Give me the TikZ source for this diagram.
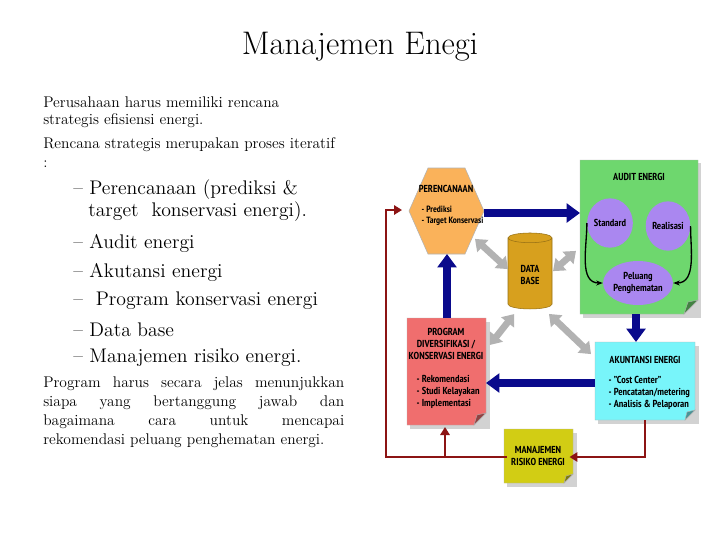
\documentclass[tikz,border=0pt]{standalone}
\usepackage{fontspec}
\setsansfont{PT Sans Narrow}[BoldFont={PT Sans Narrow Bold}]
\usetikzlibrary{shapes.geometric,arrows.meta}
\definecolor{hexor}{RGB}{250,178,90}
\definecolor{grn}{RGB}{110,215,110}
\definecolor{purp}{RGB}{170,135,240}
\definecolor{pink}{RGB}{240,110,110}
\definecolor{cyanb}{RGB}{120,245,250}
\definecolor{yel}{RGB}{210,205,20}
\definecolor{dbg}{RGB}{215,160,30}
\definecolor{navy}{RGB}{10,10,140}
\definecolor{dred}{RGB}{140,20,20}
\tikzset{
 lt/.style={anchor=west,inner sep=0pt,font=\fontsize{11.6}{13}\selectfont},
 bt/.style={anchor=west,inner sep=0pt,font=\fontsize{14.8}{17}\selectfont},
 dg/.style={font=\sffamily\fontsize{7.6}{9}\selectfont\bfseries},
 note/.style={draw=gray!60,line width=0.3pt},
 blu/.style={line width=6pt,navy,-{Triangle[length=10pt,width=14pt]}},
 gry/.style={line width=5pt,gray!60,{Triangle[length=8pt,width=12pt]}-{Triangle[length=8pt,width=12pt]},shorten <=1pt,shorten >=1pt},
 red/.style={line width=2.2pt,dred},
}
\begin{document}
\begin{tikzpicture}[x=0.75pt,y=-0.75pt]
\useasboundingbox[fill=white] (0,0) rectangle (720,540);
\node (title) at (360,47) {\fontsize{24.5}{28}\selectfont Manajemen Enegi};
\node[lt] (p1) at (43,102) {Perusahaan harus memiliki rencana};
\node[lt] (p2) at (43,121) {strategis efisiensi energi.};
\node[lt] (p3) at (43,145) {Rencana strategis merupakan proses iteratif};
\node[lt] (p4) at (43,164) {:};
\node[bt] (b1) at (73,190) {– Perencanaan (prediksi \&};
\node[bt] (b1b) at (88,212) {target~ konservasi energi).};
\node[bt] (b2) at (73,243) {– Audit energi};
\node[bt] (b3) at (73,272) {– Akutansi energi};
\node[bt] (b4) at (73,301) {–~ Program konservasi energi};
\node[bt] (b5) at (73,330) {– Data base};
\node[bt] (b6) at (73,358) {– Manajemen risiko energi.};
\node[lt] (q1) at (43,384) {\makebox[225.75pt][s]{Program harus secara jelas menunjukkan}};
\node[lt] (q2) at (43,403) {\makebox[225.75pt][s]{siapa yang bertanggung jawab dan}};
\node[lt] (q3) at (43,422) {\makebox[225.75pt][s]{bagaimana cara untuk mencapai}};
\node[lt] (q4) at (43,441) {rekomendasi peluang penghematan energi.};

% shadows
\fill[gray!35] (583,163) rectangle (701,318);
\fill[gray!35] (410,322) rectangle (490,429);
\fill[gray!35] (598,346) rectangle (699,424);
\fill[gray!35] (507,433) rectangle (577,487);
% audit
\filldraw[fill=grn,note] (580,160) -- (698,160) -- (698,300) -- (684,314) -- (580,314) -- cycle;
\filldraw[fill=grn!60!black,note] (698,300) -- (688,302) -- (684,314) -- cycle;
\node[dg] (audit) at (639,177) {AUDIT ENERGI};
\node[ellipse,fill=purp,minimum width=33pt,minimum height=37pt,inner sep=0pt,dg] (std) at (610,223) {Standard};
\node[ellipse,fill=purp,minimum width=33pt,minimum height=37pt,inner sep=0pt,dg] (rea) at (668,226) {Realisasi};
\node[ellipse,fill=purp,minimum width=46pt,minimum height=33pt,inner sep=0pt,dg,align=center] (pel) at (638,283) {Peluang\\Penghematan};
\draw[line width=1pt,-{Stealth[length=5pt]}] (std.west) to[out=-90,in=180] (pel.west);
\draw[line width=1pt,-{Stealth[length=5pt]}] (rea.east) to[out=-90,in=0] (pel.east);
% hexagon
\filldraw[fill=hexor,draw=gray!60] (409,211) -- (428,168) -- (465,168) -- (484,211) -- (465,254) -- (428,254) -- cycle;
\node[dg] (hext) at (446,189) {PERENCANAAN};
\node[dg,align=left,anchor=west,font=\sffamily\fontsize{6.8}{8.5}\selectfont\bfseries] (hexl) at (417,216) {- Prediksi\\- Target Konservasi};
% program
\filldraw[fill=pink,note] (407,318) -- (486,318) -- (486,413) -- (474,425) -- (407,425) -- cycle;
\filldraw[fill=pink!60!black,note] (486,413) -- (477,415) -- (474,425) -- cycle;
\node[dg,align=center] (prog) at (446,344) {PROGRAM\\DIVERSIFIKASI /\\KONSERVASI ENERGI};
\node[dg,align=left,anchor=west] (progl) at (412,392) {- Rekomendasi\\- Studi Kelayakan\\- Implementasi};
% akuntansi
\filldraw[fill=cyanb,note] (595,342) -- (695,342) -- (695,410) -- (685,420) -- (595,420) -- cycle;
\filldraw[fill=cyanb!60!black,note] (695,410) -- (687,412) -- (685,420) -- cycle;
\node[dg] (akun) at (645,360) {AKUNTANSI ENERGI};
\node[dg,align=left,anchor=west] (akunl) at (604,393) {- "Cost Center"\\- Pencatatan/metering\\- Analisis \& Pelaporan};
% manajemen
\filldraw[fill=yel,note] (504,429) -- (573,429) -- (573,474) -- (564,483) -- (504,483) -- cycle;
\filldraw[fill=yel!60!black,note] (573,474) -- (566,476) -- (564,483) -- cycle;
\node[dg,align=center] (man) at (538,456) {MANAJEMEN\\RISIKO ENERGI};
% database cylinder
\node[cylinder,shape border rotate=90,aspect=0.35,fill=dbg,draw=dbg!70!black,minimum width=33pt,minimum height=57pt,dg,align=center] (db) at (530,275) {DATA\\BASE};
% blue arrows
\coordinate (h1) at (484,213); \coordinate (a1) at (580,213);
\draw[blu] (h1) -- (a1);
\coordinate (a2) at (636,314); \coordinate (k2) at (636,342);
\draw[blu] (a2) -- (k2);
\coordinate (k3) at (595,383); \coordinate (p3) at (486,383);
\draw[blu] (k3) -- (p3);
\coordinate (p4) at (447,318); \coordinate (h4) at (447,254);
\draw[blu] (p4) -- (h4);
% gray arrows
\coordinate (g1) at (474,238); \coordinate (g1b) at (509,270);
\draw[gry] (g1) -- (g1b);
\coordinate (g2) at (577,250); \coordinate (g2b) at (552,272);
\draw[gry] (g2) -- (g2b);
\coordinate (g3) at (489,346); \coordinate (g3b) at (515,313);
\draw[gry] (g3) -- (g3b);
\coordinate (g4) at (592,355); \coordinate (g4b) at (548,313);
\draw[gry] (g4) -- (g4b);
% red lines
\coordinate (r1) at (645,420); \coordinate (r2) at (645,457);
\draw[red,-{Triangle[length=6pt,width=7pt]}] (r1) -- (r2) -- (man.east |- r2);
\coordinate (r3) at (386,457); \coordinate (r4) at (386,210); \coordinate (r5) at (402,210);
\draw[red,-{Triangle[length=6pt,width=7pt]}] (man.west |- r3) -- (r3) -- (r4) -- (r5);
\coordinate (r6) at (445,457); \coordinate (r7) at (445,427);
\draw[red,-{Triangle[length=6pt,width=7pt]}] (r6) -- (r7);
\end{tikzpicture}
\end{document}
